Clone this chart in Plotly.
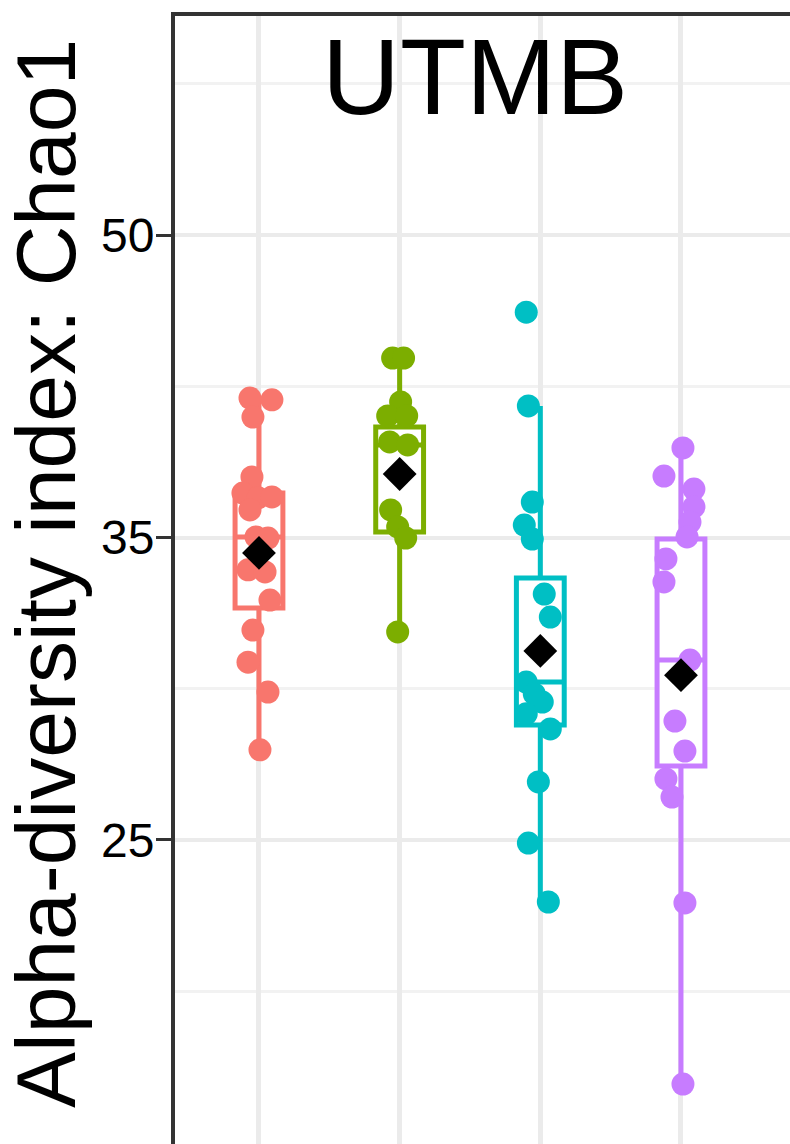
import plotly.graph_objects as go

# ---- data ----
groups = ["G1", "G2", "G3", "G4"]
colors = ["#F8766D", "#7CAE00", "#00BFC4", "#C77CFF"]

g1_values = [39.61, 39.55, 38.98, 37.0, 36.47, 36.31, 36.34, 35.91, 35.02, 34.98,
             33.93, 33.86, 32.93, 31.94, 30.88, 29.89, 27.98]
g1_jitter = [-0.064, 0.092, -0.043, -0.05, -0.114, -0.007, 0.092, -0.064, -0.021, 0.064,
             -0.078, 0.043, 0.078, -0.043, -0.078, 0.064, 0.007]

g2_values = [40.93, 40.93, 39.48, 39.02, 39.02, 38.16, 38.06, 35.91, 35.35, 34.98, 31.88]
g2_jitter = [-0.05, 0.028, 0.007, -0.085, 0.05, -0.071, 0.057, -0.064, -0.014, 0.043, -0.014]

g3_values = [42.45, 39.35, 36.17, 35.41, 34.95, 33.13, 32.37, 30.22, 29.83, 29.56,
             29.17, 28.67, 26.92, 24.90, 22.95]
g3_jitter = [-0.1, -0.085, -0.057, -0.114, -0.057, 0.028, 0.071, -0.1, -0.043, 0.014,
             -0.1, 0.071, -0.014, -0.085, 0.057]

g4_values = [37.96, 37.03, 36.60, 36.01, 35.51, 35.02, 34.29, 33.53, 30.95, 28.93,
             27.94, 27.02, 26.42, 22.92, 16.93]
g4_jitter = [0.014, -0.121, 0.092, 0.092, 0.064, 0.043, -0.107, -0.121, 0.064, -0.043,
             0.028, -0.107, -0.064, 0.028, 0.014]

q1 = [32.67, 35.18, 28.80, 27.45]
median = [35.02, 38.06, 30.22, 30.95]
q3 = [36.47, 38.65, 33.66, 34.95]
lower = [27.98, 31.88, 22.88, 16.93]
upper = [39.55, 40.93, 39.35, 37.96]
means = [34.49, 37.10, 31.25, 30.45]

ytick_vals = [25, 35, 45]
ytick_text = ["25", "35", "50"]

values = [g1_values, g2_values, g3_values, g4_values]
jitters = [g1_jitter, g2_jitter, g3_jitter, g4_jitter]

fig = go.Figure()

for i in range(len(groups)):
    fig.add_trace(go.Box(
        x=[i], q1=[q1[i]], median=[median[i]], q3=[q3[i]],
        lowerfence=[lower[i]], upperfence=[upper[i]],
        width=0.34, whiskerwidth=0, boxpoints=False,
        line=dict(color=colors[i], width=5),
        fillcolor="white", showlegend=False, hoverinfo="skip",
    ))

for i in range(len(groups)):
    fig.add_trace(go.Scatter(
        x=[i + j for j in jitters[i]], y=values[i], mode="markers",
        marker=dict(color=colors[i], size=23, line=dict(width=0)),
        showlegend=False,
    ))

fig.add_trace(go.Scatter(
    x=list(range(len(groups))), y=means, mode="markers",
    marker=dict(color="black", symbol="diamond", size=26, line=dict(width=0)),
    showlegend=False,
))

fig.add_annotation(
    text="UTMB", xref="paper", yref="paper", x=0.4878, y=0.946,
    xanchor="center", yanchor="middle", showarrow=False,
    font=dict(family="Liberation Sans, Arial", size=108, color="black"),
)

fig.add_annotation(
    text="Alpha-diversity index: Chao1", xref="paper", yref="paper",
    x=(46 - 175) / 615, y=(1144 - 574) / 1128, textangle=-90,
    xanchor="center", yanchor="middle", showarrow=False,
    font=dict(family="Liberation Sans, Arial", size=84, color="black"),
)

fig.update_layout(
    width=790, height=1144,
    margin=dict(l=175, r=0, t=16, b=0),
    paper_bgcolor="white", plot_bgcolor="white",
    font=dict(family="Liberation Sans, Arial"),
    xaxis=dict(
        range=[-0.597, 3.775], tickvals=[0, 1, 2, 3], showticklabels=False,
        ticks="", showgrid=True, gridcolor="#EBEBEB", gridwidth=4.5,
        zeroline=False, side="top", showline=True, linecolor="#333333", linewidth=4,
    ),
    yaxis=dict(
        range=[14.95, 52.24], tickvals=ytick_vals, ticktext=ytick_text,
        ticks="outside", ticklen=15, tickwidth=3, tickcolor="#333333",
        ticklabelstandoff=-8,
        tickfont=dict(size=48, color="black", family="Liberation Sans, Arial"),
        showgrid=True, gridcolor="#EBEBEB", gridwidth=4,
        minor=dict(tick0=20, dtick=10, showgrid=True, gridcolor="#F2F2F2",
                   gridwidth=2.5, ticks=""),
        zeroline=False, showline=True, linecolor="#333333", linewidth=4,
    ),
)

fig.write_html("out.html")
